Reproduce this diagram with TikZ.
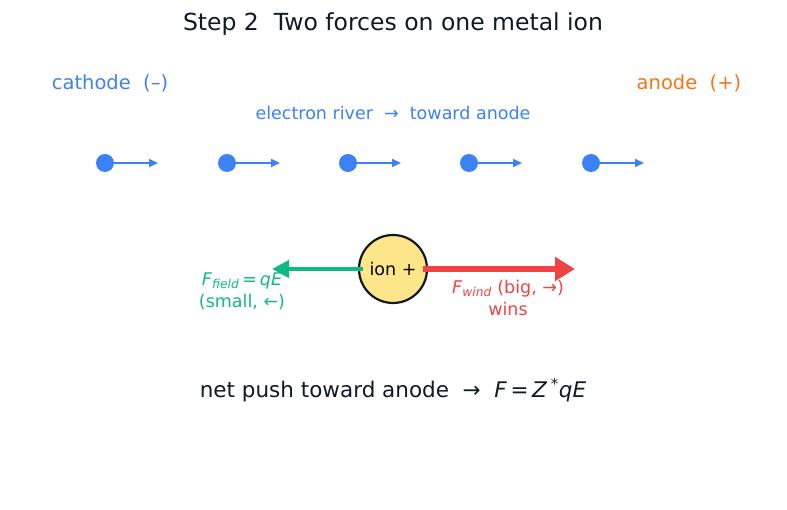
\documentclass[tikz,border=0pt]{standalone}
\usepackage{fontspec}
\setmainfont{DejaVu Sans}
\usetikzlibrary{arrows.meta}

\definecolor{eblue}{HTML}{3B82F6}
\definecolor{aorange}{HTML}{F97316}
\definecolor{fgreen}{HTML}{10B981}
\definecolor{wred}{HTML}{EF4444}
\definecolor{ionfill}{HTML}{FDE68A}
\definecolor{inkdark}{HTML}{111827}

\begin{document}
\begin{tikzpicture}[x=1pt,y=-1pt,
   electron/.style={circle,fill=eblue,minimum size=18pt,inner sep=0pt},
   drift/.style={eblue,line width=1.8pt,-{Triangle[length=9pt,width=8pt]}},
   ion/.style={circle,draw=inkdark,line width=2.2pt,fill=ionfill,
    minimum size=68pt,inner sep=0pt,font=\fontsize{17.5}{21}\selectfont},
   label/.style={inner sep=0pt,align=center,font=\fontsize{17.5}{22}\selectfont}
    ]
  \useasboundingbox (0,0) rectangle (787,510);

  % -- title and electrodes
  \node[label,text=inkdark,font=\fontsize{23.5}{28}\selectfont] at (393,24) (title) {Step 2\ \ Two forces on one metal ion};
  \node[label,text=eblue,font=\fontsize{19.5}{23}\selectfont] at (110,83) (cathode) {cathode\ \ (–)};
  \node[label,text=aorange,font=\fontsize{19.5}{23}\selectfont] at (689,83) (anode) {anode\ \ (+)};
  \node[label,text=eblue] at (393,113) (river) {electron river\ \ →\ \ toward anode};

  % -- electrons
  \foreach \i/\x in {1/105,2/227,3/348,4/469,5/591}{
    \node[electron] at (\x,163) (e\i) {};
    \coordinate (t\i) at (\x+53,163);
    \draw[drift] (e\i.center) -- (t\i);
  }

  % -- ion and forces
  \node[ion] at (393,269) (ion) {ion +};
  \coordinate (fieldtip) at (272,269);
  \coordinate (windtip) at (575,269);
  \draw[fgreen,line width=4pt,-{Triangle[length=17pt,width=17pt]}] ([xshift=-30pt]ion.center) -- (fieldtip);
  \draw[wred,line width=6.5pt,-{Triangle[length=20pt,width=23pt]}] ([xshift=30pt]ion.center) -- (windtip);

  \node[label,text=fgreen] at (242,291) (field) {\textit{F}\textsubscript{\textit{field}}\,=\,\textit{qE}\\(small, ←)};
  \node[label,text=wred] at (508,298) (wind) {\textit{F}\textsubscript{\textit{wind}} (big, →)\\wins};

  % -- result
  \node[label,text=inkdark,font=\fontsize{21.5}{26}\selectfont] at (393,390) (net) {net push toward anode\ \ →\ \ \textit{F}\,=\,\textit{Z}\,\textsuperscript{*}\textit{qE}};
\end{tikzpicture}
\end{document}
